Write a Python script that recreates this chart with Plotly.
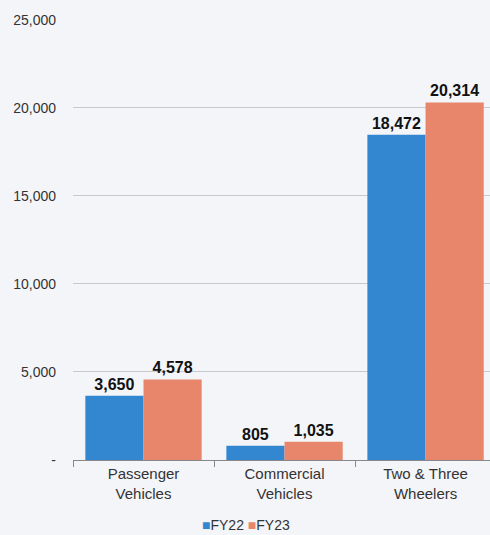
import plotly.graph_objects as go

categories = ["Passenger<br>Vehicles", "Commercial<br>Vehicles", "Two & Three<br>Wheelers"]
fy22 = [3650, 805, 18472]
fy23 = [4578, 1035, 20314]
series_names = ["FY22", "FY23"]
y_ticks = [0, 5000, 10000, 15000, 20000, 25000]
y_tick_labels = ["-", "5,000", "10,000", "15,000", "20,000", "25,000"]

font = "Liberation Sans, Arial, sans-serif"
bg = "#f4f5f9"
colors = ["#3387d0", "#e8866c"]

fig = go.Figure()
for name, vals, col in zip(series_names, [fy22, fy23], colors):
    fig.add_bar(name=name, x=categories, y=vals, marker_color=col,
                text=[f"{v:,}" for v in vals], textposition="outside",
                texttemplate="<b>%{text}</b>",
                textfont=dict(family=font, size=16, color="#111111"),
                cliponaxis=False, marker_line_width=0, showlegend=False,
                hoverinfo="skip")

legend_text = " ".join(
    f"<span style='color:{c}'>■</span>{n}" for n, c in zip(series_names, colors)
)
fig.add_annotation(text=legend_text, xref="paper", yref="paper", x=0.415, y=-0.147,
                   xanchor="center", yanchor="middle", showarrow=False,
                   font=dict(family=font, size=14, color="#333333"))

fig.update_layout(
    width=490, height=535,
    margin=dict(l=73, r=0, t=19, b=75, autoexpand=False),
    paper_bgcolor=bg, plot_bgcolor=bg,
    barmode="group", bargap=0.175, bargroupgap=0,
    font=dict(family=font, size=14, color="#333333"),
    showlegend=False,
    uniformtext=dict(minsize=8, mode="show"),
    xaxis=dict(range=[-0.5, 2.457], showline=True, linecolor="#888888", linewidth=1,
               ticks="outside", tickson="boundaries", ticklen=6, tickcolor="#888888",
               tickfont=dict(family=font, size=15, color="#333333"), showgrid=False,
               automargin=False, fixedrange=True),
    yaxis=dict(range=[0, 25050], tickvals=y_ticks, ticktext=y_tick_labels,
               showgrid=True, gridcolor="#c8c9cc", gridwidth=1, zeroline=False,
               ticks="", ticklabelstandoff=16, automargin=False, fixedrange=True,
               tickfont=dict(family=font, size=14, color="#333333")),
)

fig.write_html(
    "out.html",
    config={"displayModeBar": False, "staticPlot": True},
    post_script=(
        "document.body.style.margin='0';"
        "document.body.style.overflow='hidden';"
        "document.body.style.background='#f4f5f9';"
    ),
)
